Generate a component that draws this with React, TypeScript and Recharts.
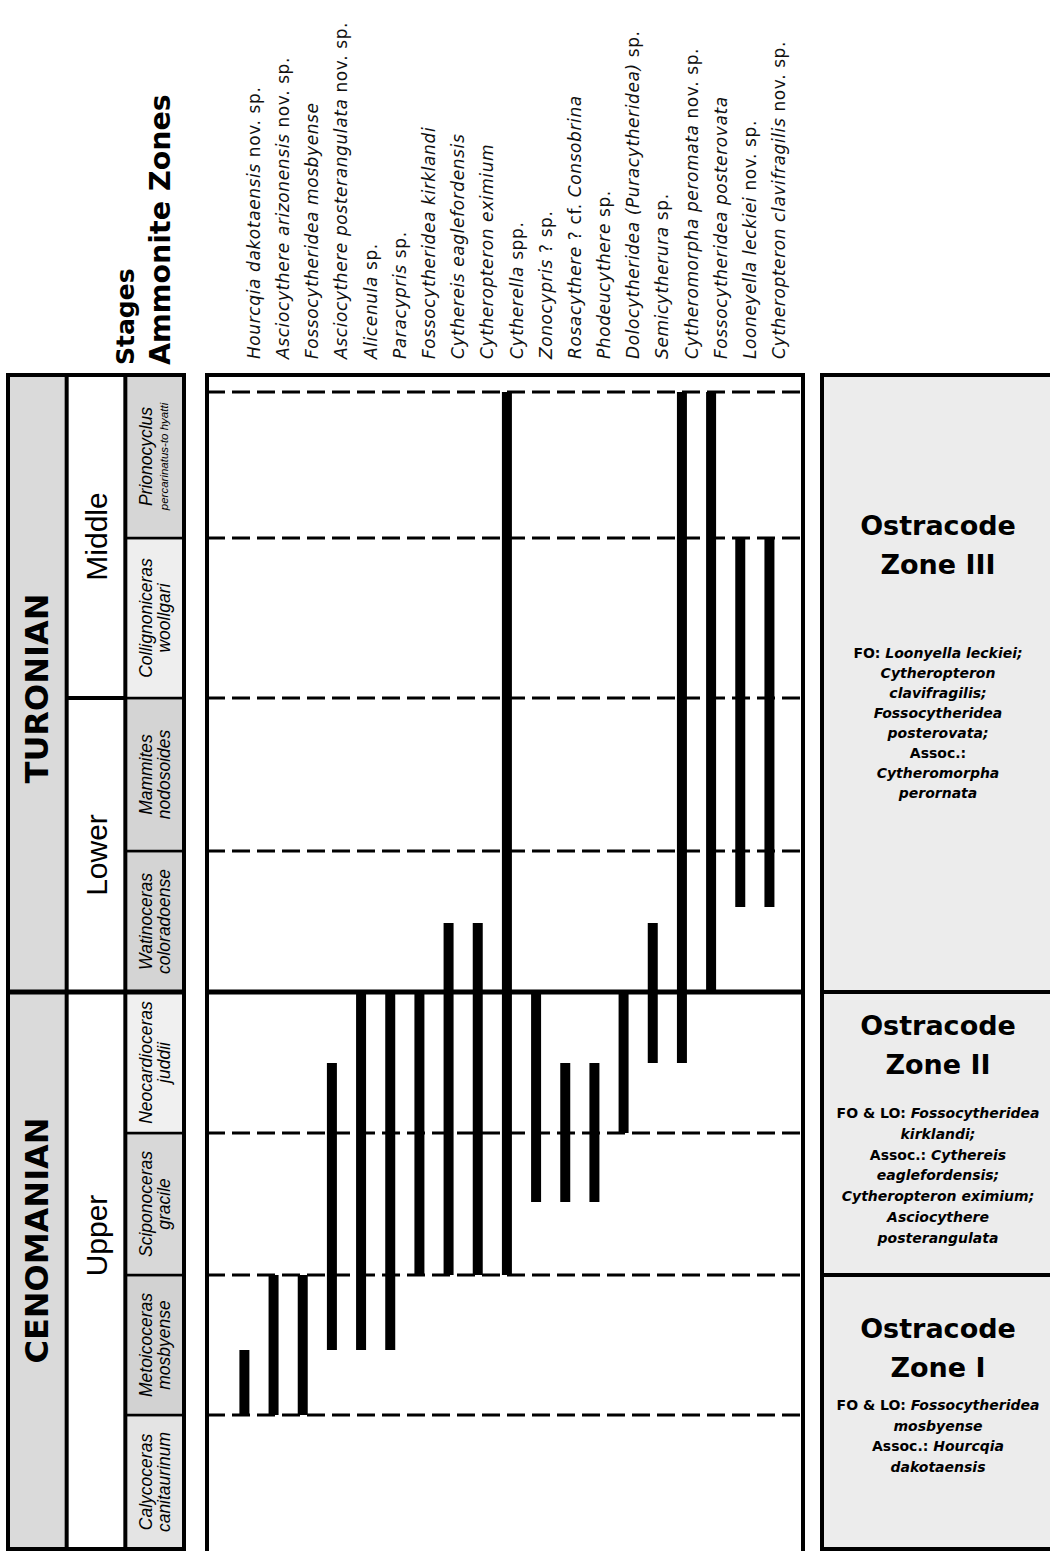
import React from 'react';
import { BarChart, Bar, ComposedChart, XAxis, YAxis, ReferenceLine, ReferenceArea } from 'recharts';

// relative stratigraphic height, 0 = base of the figure
const ammoniteBounds = [0, 13.4, 27.4, 41.6, 55.7, 69.8, 85.1, 101.1, 117.4];
const ammoniteGenus = ['Calycoceras', 'Metoicoceras', 'Sciponoceras', 'Neocardioceras', 'Watinoceras', 'Mammites', 'Collignoniceras', 'Prionocyclus'];
const ammoniteSpecies = ['canitaurinum', 'mosbyense', 'gracile', 'juddii', 'coloradoense', 'nodosoides', 'woollgari', 'percarinatus-to hyatti'];

const stageNames = ['CENOMANIAN', 'TURONIAN'];
const stageBounds = [[0, 55.7], [55.7, 117.4]];
const substageNames = ['Upper', 'Lower', 'Middle'];
const substageBounds = [[0, 55.7], [55.7, 85.1], [85.1, 117.4]];

const sectionTop = 115.7;
const ctBoundary = 55.7;
const dashedLevels = [13.4, 27.4, 41.6, 69.8, 85.1, 101.1, sectionTop];

const taxa = [
  'Hourcqia dakotaensis nov. sp.',
  'Asciocythere arizonensis nov. sp.',
  'Fossocytheridea mosbyense',
  'Asciocythere posterangulata nov. sp.',
  'Alicenula sp.',
  'Paracypris sp.',
  'Fossocytheridea kirklandi',
  'Cythereis eaglefordensis',
  'Cytheropteron eximium',
  'Cytherella spp.',
  'Zonocypris ? sp.',
  'Rosacythere ? cf. Consobrina',
  'Phodeucythere sp.',
  'Dolocytheridea (Puracytheridea) sp.',
  'Semicytherura sp.',
  'Cytheromorpha peromata nov. sp.',
  'Fossocytheridea posterovata',
  'Looneyella leckiei nov. sp.',
  'Cytheropteron clavifragilis nov. sp.',
];
const firstOccurrence = [13.4, 13.4, 13.4, 19.9, 19.9, 19.9, 27.4, 27.4, 27.4, 27.4, 34.7, 34.7, 34.7, 41.6, 48.6, 48.6, 55.7, 64.2, 64.2];
const lastOccurrence = [19.9, 27.4, 27.4, 48.6, 55.7, 55.7, 55.7, 62.6, 62.6, 115.7, 55.7, 48.6, 48.6, 55.7, 62.6, 115.7, 115.7, 101.1, 101.1];

const ostracodeZones = ['Zone I', 'Zone II', 'Zone III'];
const ostracodeBounds = [[0, 27.4], [27.4, 55.7], [55.7, 117.4]];
// *...* marks italic text
const ostracodeNotes = [
  ['FO & LO: *Fossocytheridea*', '*mosbyense*', 'Assoc.: *Hourcqia*', '*dakotaensis*'],
  ['FO & LO: *Fossocytheridea*', '*kirklandi;*', 'Assoc.: *Cythereis*', '*eaglefordensis;*', '*Cytheropteron eximium;*', '*Asciocythere*', '*posterangulata*'],
  ['FO: *Loonyella leckiei;*', '*Cytheropteron*', '*clavifragilis;*', '*Fossocytheridea*', '*posterovata;*', 'Assoc.:', '*Cytheromorpha*', '*perornata*'],
];

const headerTicks = [2.0, 2.6];
const headerLabels = ['Stages', 'Ammonite Zones'];

// styles
const DOMAIN: [number, number] = [0, 117.4];
const HEAVY = "'DejaVu Sans', sans-serif";
const ARIAL = "'Liberation Sans', Arial, sans-serif";
const ammoniteFill = ['#e4e4e4', '#d2d2d2', '#d8d8d8', '#f0f0f0', '#d4d4d4', '#d4d4d4', '#eeeeee', '#d6d6d6'];
const zoneLayout = [
  { title: 53, body: 130, step: 20.7 },
  { title: 33, body: 121, step: 20.8 },
  { title: 150, body: 278, step: 20 },
];

const rangeData = taxa.map((name, i) => ({ name, range: [firstOccurrence[i], lastOccurrence[i]] }));
const leftRows = ammoniteGenus.map((g) => ({ g, col: 2.5 }));
const rightRows = ostracodeZones.map((z) => ({ z, col: 0.5 }));
const UPRIGHT = new Set(['nov.', 'sp.', 'spp.', 'cf.', '?']);

const TaxonTick = ({ x, y, payload }: any) => {
  const ax = x + 10;
  const words = String(payload.value).split(' ');
  return (
    <text x={ax} y={y} transform={`rotate(-90 ${ax} ${y})`} textAnchor="start" dominantBaseline="central"
      fontFamily={HEAVY} fontSize={17} letterSpacing={0.6} fill="#111" style={{ whiteSpace: 'pre' }}>
      {words.map((w, i) => (
        <tspan key={i} fontStyle={UPRIGHT.has(w) ? 'normal' : 'italic'}>{(i ? ' ' : '') + w}</tspan>
      ))}
    </text>
  );
};

const HeaderTick = ({ x, y, payload }: any) => {
  const idx = headerTicks.indexOf(payload.value);
  return (
    <text x={x} y={y} transform={`rotate(-90 ${x} ${y})`} textAnchor="start" dominantBaseline="central"
      fontFamily={HEAVY} fontWeight="bold" fontSize={idx === 0 ? 25 : 28.5} fill="#000">
      {headerLabels[idx]}
    </text>
  );
};

const RotatedLabel = ({ viewBox, text, shift = 0, font, size, weight }: any) => {
  const cx = viewBox.x + viewBox.width / 2;
  const cy = viewBox.y + viewBox.height / 2 + shift;
  return (
    <text x={cx} y={cy} transform={`rotate(-90 ${cx} ${cy})`} textAnchor="middle" dominantBaseline="central"
      fontFamily={font} fontSize={size} fontWeight={weight} fill="#000">
      {text}
    </text>
  );
};

const AmmoniteLabel = ({ viewBox, genus, species }: any) => {
  const cx = viewBox.x + viewBox.width / 2;
  const cy = viewBox.y + viewBox.height / 2;
  const small = species.length > 14;
  return (
    <g fontFamily={ARIAL} fontStyle="italic" fill="#000">
      <text x={cx - 9} y={cy} transform={`rotate(-90 ${cx - 9} ${cy})`} textAnchor="middle" dominantBaseline="central" fontSize={17.5}>{genus}</text>
      <text x={cx + 9} y={cy} transform={`rotate(-90 ${cx + 9} ${cy})`} textAnchor="middle" dominantBaseline="central" fontSize={small ? 11.5 : 17.5}>{species}</text>
    </g>
  );
};

const NoteLine = ({ x, y, line }: any) => {
  const parts = String(line).split('*');
  return (
    <text x={x} y={y} textAnchor="middle" fontFamily={HEAVY} fontWeight="bold" fontSize={14} fill="#000" style={{ whiteSpace: 'pre' }}>
      {parts.map((p, i) => (p ? <tspan key={i} fontStyle={i % 2 ? 'italic' : 'normal'}>{p}</tspan> : null))}
    </text>
  );
};

const ZoneText = ({ viewBox, idx }: any) => {
  const cx = viewBox.x + 116;
  const top = viewBox.y;
  const lay = zoneLayout[idx];
  return (
    <g>
      <text x={cx} y={top + lay.title + 10} textAnchor="middle" fontFamily={HEAVY} fontWeight="bold" fontSize={27} fill="#000">Ostracode</text>
      <text x={cx} y={top + lay.title + 49} textAnchor="middle" fontFamily={HEAVY} fontWeight="bold" fontSize={27} fill="#000">{ostracodeZones[idx]}</text>
      {ostracodeNotes[idx].map((line, i) => (
        <NoteLine key={i} x={cx} y={top + lay.body + i * lay.step + 5} line={line} />
      ))}
    </g>
  );
};

const LeftPanel = () => (
  <ComposedChart width={190} height={1551} data={leftRows} margin={{ top: 0, right: 6, bottom: 2, left: 8 }}>
    <XAxis dataKey="col" type="number" orientation="top" domain={[0, 3]} ticks={headerTicks} interval={0} height={375}
      axisLine={false} tickLine={false} tickSize={4} tickMargin={6} tick={<HeaderTick />} allowDataOverflow />
    <YAxis type="number" domain={DOMAIN} hide allowDataOverflow />
    {stageNames.map((s, i) => (
      <ReferenceArea key={s} x1={0} x2={1} y1={stageBounds[i][0]} y2={stageBounds[i][1]} fill="#dadada" fillOpacity={1} stroke="none"
        label={<RotatedLabel text={s} shift={i === 0 ? -30 : 5} font={HEAVY} size={32} weight="bold" />} />
    ))}
    {substageNames.map((s, i) => (
      <ReferenceArea key={s} x1={1} x2={2} y1={substageBounds[i][0]} y2={substageBounds[i][1]} fill="#ffffff" fillOpacity={1} stroke="none"
        label={<RotatedLabel text={s} shift={i === 0 ? -35 : i === 1 ? 10 : 0} font={ARIAL} size={30} weight="normal" />} />
    ))}
    {ammoniteGenus.map((g, i) => (
      <ReferenceArea key={g} x1={2} x2={3} y1={ammoniteBounds[i]} y2={ammoniteBounds[i + 1]} fill={ammoniteFill[i]} fillOpacity={1}
        stroke="#000" strokeWidth={2.5} label={<AmmoniteLabel genus={g} species={ammoniteSpecies[i]} />} />
    ))}
    <ReferenceLine x={1} stroke="#000" strokeWidth={4} />
    <ReferenceLine x={2} stroke="#000" strokeWidth={4} />
    <ReferenceLine segment={[{ x: 1, y: substageBounds[2][0] }, { x: 2, y: substageBounds[2][0] }]} stroke="#000" strokeWidth={4} />
    <ReferenceLine y={ctBoundary} stroke="#000" strokeWidth={5} />
    <ReferenceArea x1={0} x2={3} y1={DOMAIN[0]} y2={DOMAIN[1]} fill="none" stroke="#000" strokeWidth={4} />
  </ComposedChart>
);

const RangeChart = () => (
  <BarChart width={610} height={1551} data={rangeData} margin={{ top: 0, right: 7, bottom: 2, left: 7 }}>
    <XAxis dataKey="name" type="category" orientation="top" height={375} interval={0} padding={{ left: 22.4, right: 19.4 }}
      axisLine={false} tickLine={false} tickSize={8} tickMargin={8} tick={<TaxonTick />} />
    <YAxis type="number" domain={DOMAIN} hide allowDataOverflow />
    {dashedLevels.map((v) => (
      <ReferenceLine key={v} y={v} stroke="#000" strokeWidth={3} strokeDasharray="18 7" />
    ))}
    <ReferenceLine y={ctBoundary} stroke="#000" strokeWidth={5} />
    <Bar dataKey="range" fill="#000" barSize={10} isAnimationActive={false} />
  </BarChart>
);

const ZonePanel = () => (
  <ComposedChart width={246} height={1551} data={rightRows} margin={{ top: 375, right: 6, bottom: 2, left: 8 }}>
    <XAxis dataKey="col" type="number" domain={[0, 1]} hide allowDataOverflow />
    <YAxis type="number" domain={DOMAIN} hide allowDataOverflow />
    {ostracodeZones.map((z, i) => (
      <ReferenceArea key={z} x1={0} x2={1} y1={ostracodeBounds[i][0]} y2={ostracodeBounds[i][1]} fill="#ececec" fillOpacity={1}
        stroke="#000" strokeWidth={4} label={<ZoneText idx={i} />} />
    ))}
  </ComposedChart>
);

export default function App() {
  return (
    <div style={{ position: 'absolute', left: 0, top: 0, width: 1050, height: 1551, overflow: 'hidden', background: '#fff' }}>
      <div style={{ position: 'absolute', left: 0, top: 0 }}><LeftPanel /></div>
      <div style={{ position: 'absolute', left: 200, top: 0 }}><RangeChart /></div>
      <div style={{ position: 'absolute', left: 205, top: 373, width: 600, height: 1200, border: '4px solid #000', boxSizing: 'border-box', pointerEvents: 'none' }} />
      <div style={{ position: 'absolute', left: 814, top: 0 }}><ZonePanel /></div>
    </div>
  );
}
